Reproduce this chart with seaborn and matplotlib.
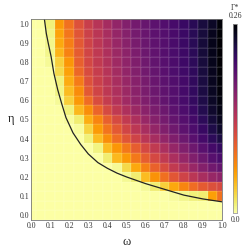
import matplotlib
matplotlib.use("Agg")
import matplotlib.pyplot as plt
import seaborn as sns
import numpy as np
import pandas as pd

# grid of the map (omega on x, eta on y)
omega = [round(0.05 * i, 2) for i in range(21)]
eta = [round(0.05 * i, 2) for i in range(21)]

# Gamma* read row by row, from eta = 1.0 down to eta = 0.0
gamma_rows = [
    [0, 0, .012, .058, .082, .104, .120, .133, .145, .157, .167, .176, .184, .191, .198, .205, .213, .222, .232, .242, .256],
    [0, 0, .010, .053, .079, .101, .118, .131, .143, .155, .165, .175, .183, .190, .197, .204, .212, .222, .233, .246, .257],
    [0, 0, .008, .050, .074, .098, .116, .129, .141, .153, .163, .173, .182, .189, .196, .204, .212, .222, .234, .248, .258],
    [0, 0, .008, .044, .072, .096, .114, .127, .139, .151, .161, .171, .181, .188, .195, .203, .211, .221, .234, .248, .258],
    [0, 0, .005, .030, .060, .093, .112, .125, .137, .149, .159, .169, .179, .187, .194, .202, .210, .220, .233, .247, .258],
    [0, 0, 0, .025, .054, .088, .109, .122, .134, .146, .157, .167, .177, .185, .193, .201, .209, .219, .232, .246, .257],
    [0, 0, 0, .012, .048, .076, .104, .119, .131, .143, .154, .164, .174, .183, .191, .199, .207, .218, .231, .245, .256],
    [0, 0, 0, .010, .040, .065, .098, .115, .128, .140, .151, .162, .172, .181, .189, .197, .206, .217, .230, .244, .255],
    [0, 0, 0, .005, .030, .058, .085, .108, .123, .136, .148, .159, .169, .178, .187, .196, .205, .216, .228, .242, .253],
    [0, 0, 0, 0, .012, .042, .064, .090, .110, .126, .139, .151, .162, .172, .181, .191, .201, .212, .225, .239, .250],
    [0, 0, 0, 0, .004, .014, .047, .070, .093, .110, .125, .140, .153, .165, .175, .186, .196, .207, .220, .234, .246],
    [0, 0, 0, 0, 0, .004, .028, .057, .080, .098, .114, .129, .143, .156, .168, .179, .190, .201, .214, .228, .240],
    [0, 0, 0, 0, 0, 0, .012, .040, .064, .085, .101, .116, .130, .144, .157, .169, .181, .193, .206, .220, .230],
    [0, 0, 0, 0, 0, 0, 0, .010, .040, .060, .078, .095, .111, .126, .141, .155, .168, .180, .193, .207, .216],
    [0, 0, 0, 0, 0, 0, 0, 0, .014, .042, .058, .078, .095, .111, .126, .141, .155, .168, .180, .194, .203],
    [0, 0, 0, 0, 0, 0, 0, 0, 0, .005, .025, .050, .073, .092, .109, .125, .140, .153, .166, .178, .186],
    [0, 0, 0, 0, 0, 0, 0, 0, 0, 0, .006, .014, .040, .062, .083, .100, .116, .130, .143, .154, .160],
    [0, 0, 0, 0, 0, 0, 0, 0, 0, 0, 0, 0, .005, .014, .030, .050, .070, .085, .097, .105, .110],
    [0, 0, 0, 0, 0, 0, 0, 0, 0, 0, 0, 0, 0, 0, 0, .004, .008, .012, .014, .055, .082],
    [0] * 21,
    [0] * 21,
]

# boundary curve
curve_omega = [0.068, 0.08, 0.09, 0.105, 0.12, 0.14, 0.16, 0.183, 0.22, 0.26, 0.30, 0.35, 0.40, 0.45, 0.50, 0.60, 0.70, 0.80, 0.90, 1.00]
curve_eta = [1.04, 0.95, 0.90, 0.83, 0.74, 0.655, 0.585, 0.51, 0.43, 0.37, 0.32, 0.275, 0.245, 0.22, 0.20, 0.165, 0.135, 0.105, 0.085, 0.07]

ticks = [0.0, 0.1, 0.2, 0.3, 0.4, 0.5, 0.6, 0.7, 0.8, 0.9, 1.0]

df = pd.DataFrame(gamma_rows[::-1], index=eta, columns=omega)

sns.set_style("white")
plt.rcParams['font.family'] = ['Liberation Serif', 'DejaVu Serif']

fig = plt.figure(figsize=(2.43, 2.47), dpi=100)
ax = fig.add_axes([0.1276, 0.1093, 0.786, 0.8138])
cax = fig.add_axes([0.959, 0.1376, 0.0165, 0.765])

sns.heatmap(df, ax=ax, cbar_ax=cax, cmap="inferno_r", vmin=0, vmax=0.26,
            linewidths=0.25, linecolor=(1, 1, 1, 0.07),
            xticklabels=False, yticklabels=False, cbar_kws={"ticks": []})
ax.invert_yaxis()


def to_cell(v):
    return np.asarray(v) / 0.05 + 0.5


ax.plot(to_cell(curve_omega), to_cell(curve_eta), color="#222222", lw=0.9)

ax.set_xlim(0.5, 20.5)
ax.set_ylim(0, 21)
ax.set_xticks(to_cell(ticks))
ax.set_xticklabels([f"{t:.1f}" for t in ticks], fontsize=5.6, color="#333333")
ax.set_yticks(to_cell(ticks))
ax.set_yticklabels([f"{t:.1f}" for t in ticks], fontsize=5.6, color="#333333")
ax.tick_params(direction="in", length=2, width=0.5, color="#777777", pad=1.5)
for s in ax.spines.values():
    s.set_visible(True)
    s.set_color("#777777")
    s.set_linewidth(0.6)

ax.set_xlabel("ω", fontsize=9, labelpad=4)
ax.set_ylabel("η", fontsize=9, rotation=0, labelpad=6, va="center")

cax.set_yticks([])
for s in cax.spines.values():
    s.set_visible(True)
    s.set_color("#999999")
    s.set_linewidth(0.4)
cax.text(0.5, 1.02, "0.26", transform=cax.transAxes, ha="center", va="bottom", fontsize=5.6, color="#333333")
cax.text(0.5, 1.065, "Γ*", transform=cax.transAxes, ha="center", va="bottom", fontsize=5.6, color="#333333")
cax.text(0.5, -0.015, "0.0", transform=cax.transAxes, ha="center", va="top", fontsize=5.6, color="#333333")

fig.savefig("out.png", dpi=100)
